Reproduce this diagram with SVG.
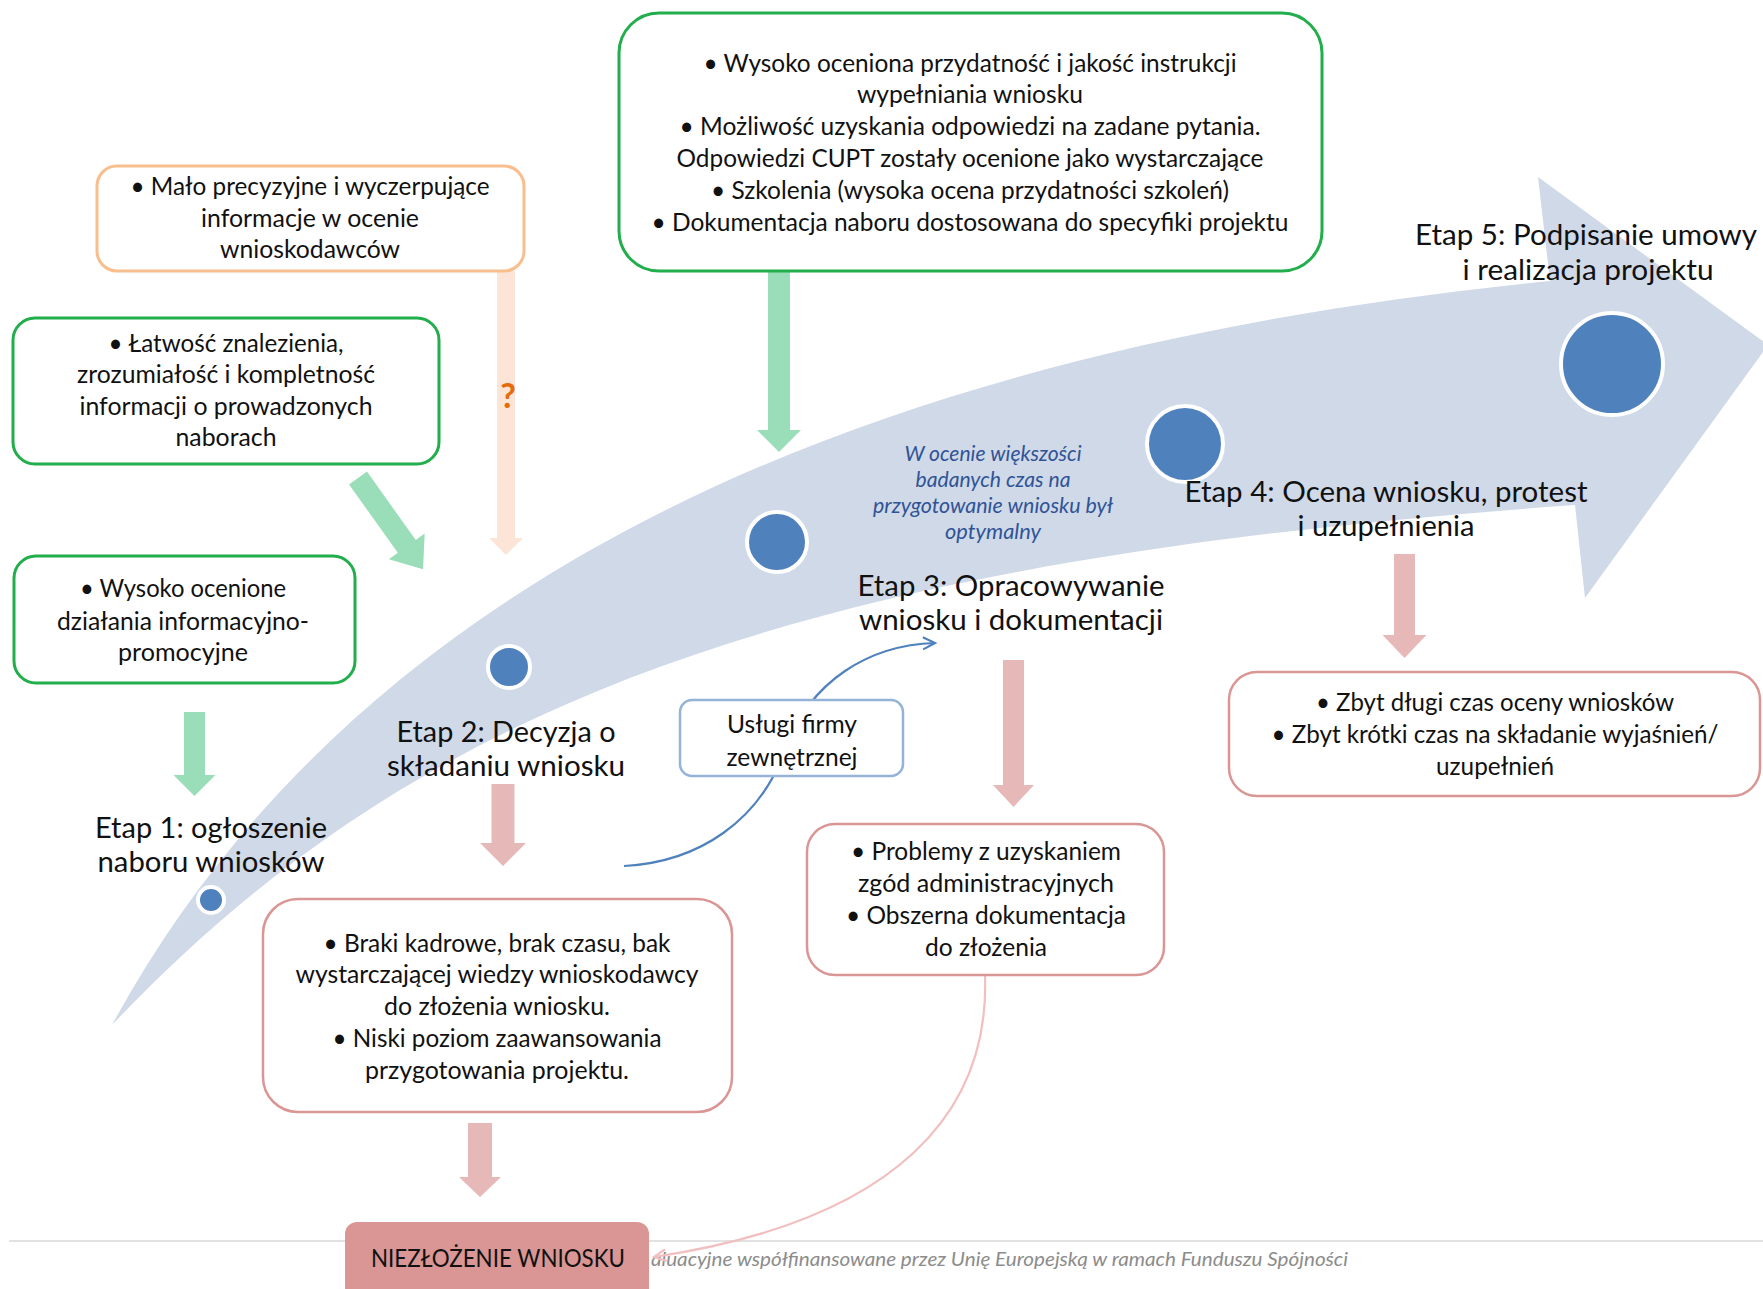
<svg xmlns="http://www.w3.org/2000/svg" width="1763" height="1289" viewBox="0 0 1763 1289">
<defs>
<style>
.t{font-family:Lato,"Open Sans","Noto Sans",sans-serif;font-size:25px;fill:#111;text-anchor:middle}
.e{font-family:Lato,"Open Sans","Noto Sans",sans-serif;font-size:28px;fill:#111;text-anchor:middle}
.n{font-family:Lato,"Open Sans","Noto Sans",sans-serif;font-size:21px;font-style:italic;fill:#2F5496;text-anchor:middle}
.f{font-family:Lato,"Open Sans","Noto Sans",sans-serif;font-size:20px;font-style:italic;fill:#8C8C8C}
.gb{fill:#fff;stroke:#22AE4C;stroke-width:3}
.ob{fill:#fff;stroke:#F8BE8E;stroke-width:3}
.pb{fill:#fff;stroke:#DA9694;stroke-width:2.5}
.bb{fill:#fff;stroke:#95B3D7;stroke-width:2.5}
.ga{fill:#9ADDB9}
.pa{fill:#E6B8B7}
.oa{fill:#FCE4D6}
.dot{fill:#4F81BD;stroke:#fff;stroke-width:4}
</style>
<marker id="mb" markerUnits="userSpaceOnUse" markerWidth="20" markerHeight="20" refX="13" refY="7" orient="auto">
<path d="M1,1 L13,7 L1,13" fill="none" stroke="#4F81BD" stroke-width="2.2"/>
</marker>
<marker id="mp" markerUnits="userSpaceOnUse" markerWidth="20" markerHeight="20" refX="13" refY="7" orient="auto">
<path d="M1,1 L13,7 L1,13" fill="none" stroke="#F2BFBF" stroke-width="2.2"/>
</marker>
</defs>
<rect width="1763" height="1289" fill="#fff"/>

<g id="band">
<path d="M112,1025 C350,587 845,351 1550,281 L1538,177 L1768,345 L1585,598 L1575,505 C800,560 420,700 112,1025 Z" fill="#D0D9E8"/>
</g>

<g id="footer">
<line x1="9" y1="1241" x2="1763" y2="1241" stroke="#D9D9D9" stroke-width="1.5"/>
<text class="f" x="651" y="1266" textLength="697" lengthAdjust="spacingAndGlyphs">aluacyjne współfinansowane przez Unię Europejską w ramach Funduszu Spójności</text>
</g>

<g id="connectors">
<path class="ga" d="M184,712 H205 V775 H215.5 L194.5,796 L173.5,775 H184 Z"/>
<path class="ga" d="M768,271 H790 V430 H801 L779,452 L757,430 H768 Z"/>
<path class="ga" d="M-11,0 H11 V84 H22 L0,112 L-22,84 H-11 Z" transform="translate(358,478) rotate(-35.5)"/>
<path class="oa" d="M497,271 H515 V538 H523 L506,555 L489,538 H497 Z"/>
<path class="pa" d="M491.5,784 H514.5 V843 H526 L503,866 L480,843 H491.5 Z"/>
<path class="pa" d="M468,1123 H492 V1177 H501 L480,1197 L459,1177 H468 Z"/>
<path class="pa" d="M1003,660 H1024 V785 H1034 L1013.5,807 L993,785 H1003 Z"/>
<path class="pa" d="M1394,554 H1415 V635 H1426.5 L1404.5,658 L1382.5,635 H1394 Z"/>
<path d="M624,866 C700,862 760,820 785,750 C810,680 870,645 935,643" fill="none" stroke="#4F81BD" stroke-width="2.2" marker-end="url(#mb)"/>
<path d="M985,975 C990,1110 900,1220 654,1257" fill="none" stroke="#F2BFBF" stroke-width="2.2" marker-end="url(#mp)"/>
</g>

<g id="stage-dots">
<circle class="dot" cx="211" cy="900" r="13"/>
<circle class="dot" cx="509" cy="667" r="21"/>
<circle class="dot" cx="777" cy="542" r="30"/>
<circle class="dot" cx="1185" cy="444" r="38"/>
<circle class="dot" cx="1612" cy="364" r="51"/>
</g>

<g id="etap1">
<text class="e" x="211" y="838" textLength="232" lengthAdjust="spacingAndGlyphs">Etap 1: ogłoszenie</text>
<text class="e" x="211" y="872" textLength="227" lengthAdjust="spacingAndGlyphs">naboru wniosków</text>
</g>
<g id="etap2">
<text class="e" x="506" y="742" textLength="219" lengthAdjust="spacingAndGlyphs">Etap 2: Decyzja o</text>
<text class="e" x="506" y="776" textLength="238" lengthAdjust="spacingAndGlyphs">składaniu wniosku</text>
</g>
<g id="etap3">
<text class="e" x="1011" y="596" textLength="307" lengthAdjust="spacingAndGlyphs">Etap 3: Opracowywanie</text>
<text class="e" x="1011" y="630" textLength="304" lengthAdjust="spacingAndGlyphs">wniosku i dokumentacji</text>
</g>
<g id="etap4">
<text class="e" x="1386" y="502" textLength="403" lengthAdjust="spacingAndGlyphs">Etap 4: Ocena wniosku, protest</text>
<text class="e" x="1386" y="536" textLength="177" lengthAdjust="spacingAndGlyphs">i uzupełnienia</text>
</g>
<g id="etap5">
<text class="e" x="1586" y="245" textLength="342" lengthAdjust="spacingAndGlyphs">Etap 5: Podpisanie umowy</text>
<text class="e" x="1588" y="280" textLength="251" lengthAdjust="spacingAndGlyphs">i realizacja projektu</text>
</g>

<g id="note">
<text class="n" x="993" y="461" textLength="177" lengthAdjust="spacingAndGlyphs">W ocenie większości</text>
<text class="n" x="993" y="487" textLength="155" lengthAdjust="spacingAndGlyphs">badanych czas na</text>
<text class="n" x="993" y="513" textLength="240" lengthAdjust="spacingAndGlyphs">przygotowanie wniosku był</text>
<text class="n" x="993" y="539" textLength="96" lengthAdjust="spacingAndGlyphs">optymalny</text>
</g>

<g id="question">
<text x="508" y="408" font-family="Lato,'Open Sans',sans-serif" font-size="34" font-weight="bold" fill="#E46C0A" text-anchor="middle">?</text>
</g>

<g id="box-orange">
<rect class="ob" x="97" y="166" width="427" height="105" rx="20"/>
<text class="t" x="310" y="195" textLength="359" lengthAdjust="spacingAndGlyphs">• Mało precyzyjne i wyczerpujące</text>
<text class="t" x="310" y="227" textLength="218" lengthAdjust="spacingAndGlyphs">informacje w ocenie</text>
<text class="t" x="310" y="258" textLength="180" lengthAdjust="spacingAndGlyphs">wnioskodawców</text>
</g>

<g id="box-green-1">
<rect class="gb" x="13" y="318" width="426" height="146" rx="22"/>
<text class="t" x="226" y="352" textLength="235" lengthAdjust="spacingAndGlyphs">• Łatwość znalezienia,</text>
<text class="t" x="226" y="383" textLength="298" lengthAdjust="spacingAndGlyphs">zrozumiałość i kompletność</text>
<text class="t" x="226" y="415" textLength="293" lengthAdjust="spacingAndGlyphs">informacji o prowadzonych</text>
<text class="t" x="226" y="446" textLength="101" lengthAdjust="spacingAndGlyphs">naborach</text>
</g>

<g id="box-green-2">
<rect class="gb" x="14" y="556" width="341" height="127" rx="22"/>
<text class="t" x="183" y="597" textLength="206" lengthAdjust="spacingAndGlyphs">• Wysoko ocenione</text>
<text class="t" x="183" y="630" textLength="252" lengthAdjust="spacingAndGlyphs">działania informacyjno-</text>
<text class="t" x="183" y="661" textLength="130" lengthAdjust="spacingAndGlyphs">promocyjne</text>
</g>

<g id="box-green-top">
<rect class="gb" x="619" y="13" width="703" height="258" rx="40"/>
<text class="t" x="970" y="72" textLength="533" lengthAdjust="spacingAndGlyphs">• Wysoko oceniona przydatność i jakość instrukcji</text>
<text class="t" x="970" y="103" textLength="226" lengthAdjust="spacingAndGlyphs">wypełniania wniosku</text>
<text class="t" x="970" y="135" textLength="581" lengthAdjust="spacingAndGlyphs">• Możliwość uzyskania odpowiedzi na zadane pytania.</text>
<text class="t" x="970" y="167" textLength="587" lengthAdjust="spacingAndGlyphs">Odpowiedzi CUPT zostały ocenione jako wystarczające</text>
<text class="t" x="970" y="199" textLength="518" lengthAdjust="spacingAndGlyphs">• Szkolenia (wysoka ocena przydatności szkoleń)</text>
<text class="t" x="970" y="231" textLength="637" lengthAdjust="spacingAndGlyphs">• Dokumentacja naboru dostosowana do specyfiki projektu</text>
</g>

<g id="box-services">
<rect class="bb" x="680" y="700" width="223" height="76" rx="12"/>
<text class="t" x="792" y="733" textLength="130" lengthAdjust="spacingAndGlyphs">Usługi firmy</text>
<text class="t" x="792" y="766" textLength="131" lengthAdjust="spacingAndGlyphs">zewnętrznej</text>
</g>

<g id="box-pink-2">
<rect class="pb" x="263" y="899" width="469" height="213" rx="35"/>
<text class="t" x="497" y="952" textLength="347" lengthAdjust="spacingAndGlyphs">• Braki kadrowe, brak czasu, bak</text>
<text class="t" x="497" y="983" textLength="403" lengthAdjust="spacingAndGlyphs">wystarczającej wiedzy wnioskodawcy</text>
<text class="t" x="497" y="1015" textLength="226" lengthAdjust="spacingAndGlyphs">do złożenia wniosku.</text>
<text class="t" x="497" y="1047" textLength="329" lengthAdjust="spacingAndGlyphs">• Niski poziom zaawansowania</text>
<text class="t" x="497" y="1079" textLength="264" lengthAdjust="spacingAndGlyphs">przygotowania projektu.</text>
</g>

<g id="box-pink-3">
<rect class="pb" x="807" y="824" width="357" height="151" rx="28"/>
<text class="t" x="986" y="860" textLength="270" lengthAdjust="spacingAndGlyphs">• Problemy z uzyskaniem</text>
<text class="t" x="986" y="892" textLength="256" lengthAdjust="spacingAndGlyphs">zgód administracyjnych</text>
<text class="t" x="986" y="924" textLength="280" lengthAdjust="spacingAndGlyphs">• Obszerna dokumentacja</text>
<text class="t" x="986" y="956" textLength="122" lengthAdjust="spacingAndGlyphs">do złożenia</text>
</g>

<g id="box-pink-4">
<rect class="pb" x="1229" y="672" width="531" height="124" rx="28"/>
<text class="t" x="1495" y="711" textLength="358" lengthAdjust="spacingAndGlyphs">• Zbyt długi czas oceny wniosków</text>
<text class="t" x="1495" y="743" textLength="447" lengthAdjust="spacingAndGlyphs">• Zbyt krótki czas na składanie wyjaśnień/</text>
<text class="t" x="1495" y="775" textLength="118" lengthAdjust="spacingAndGlyphs">uzupełnień</text>
</g>

<g id="box-niezlozenie">
<rect x="345" y="1222" width="304" height="80" rx="12" fill="#D99694"/>
<text class="t" x="498" y="1267" font-size="26" textLength="254" lengthAdjust="spacingAndGlyphs">NIEZŁOŻENIE WNIOSKU</text>
</g>
</svg>
